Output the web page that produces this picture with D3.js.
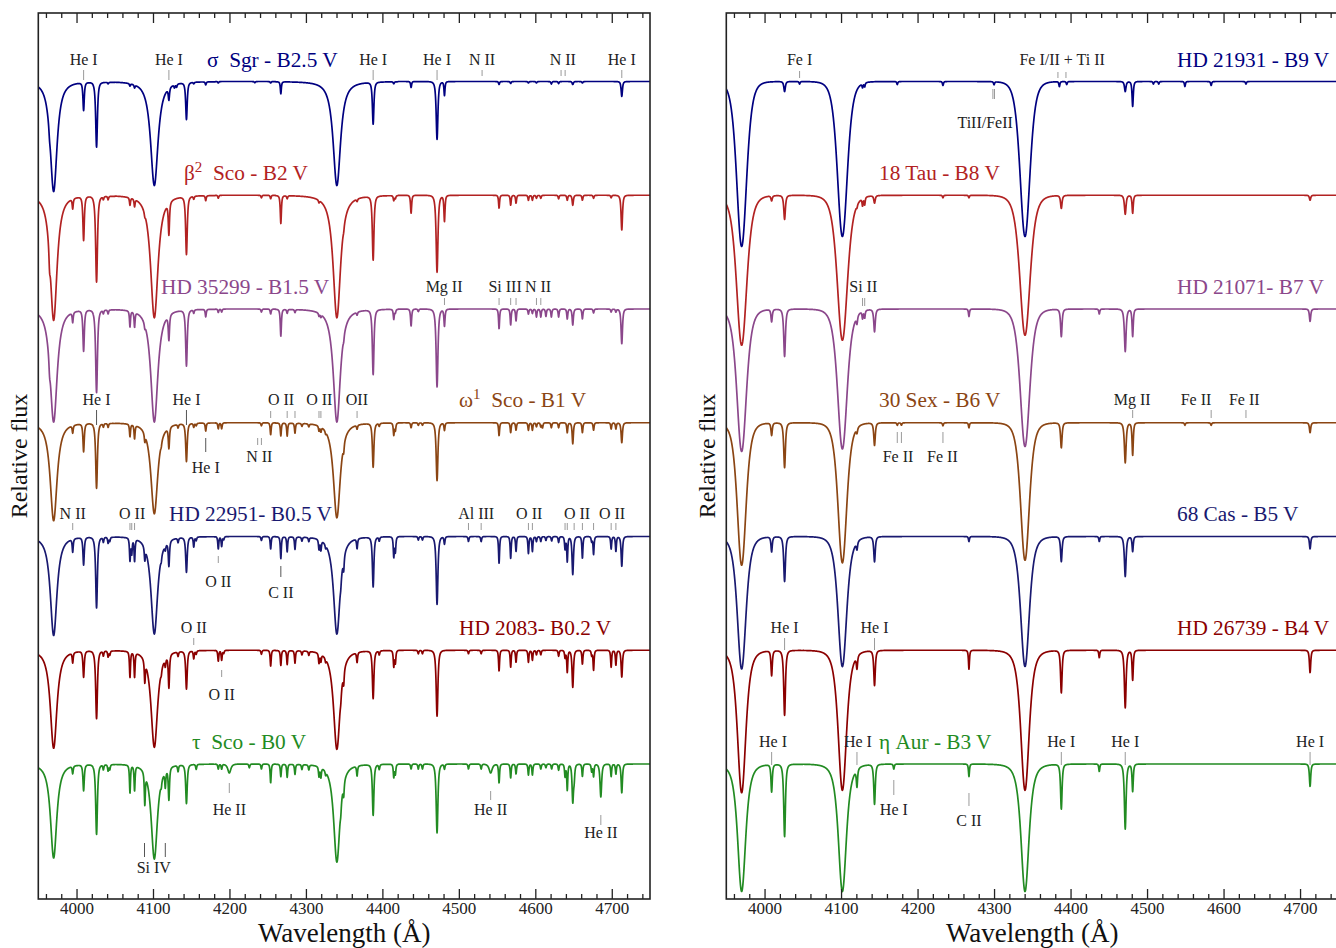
<!DOCTYPE html>
<html><head><meta charset="utf-8">
<script src="https://cdn.jsdelivr.net/npm/d3@7"></script>
<style>body{margin:0;background:#fff} svg{display:block} text{font-family:"Liberation Serif","DejaVu Serif",serif}</style>
</head><body><svg id="c" width="1336" height="948"></svg>
<script>
// ================= DATA =================
const wlDomain = [3950, 4750];
const majorTicks = [4000, 4100, 4200, 4300, 4400, 4500, 4600, 4700];
const minorTicks = d3.range(3960, 4750, 20).filter(v => v % 100 !== 0);
// continuum offsets (relative flux units) from top row to bottom row
const rowOffsets = [2.73, 2.275, 1.82, 1.365, 0.91, 0.455, 0];

// titles: [text before sup, sup, text after]
const leftTitles = [["σ  Sgr - B2.5 V"], ["β", "2", "  Sco - B2 V"], ["HD 35299 - B1.5 V"], ["ω", "1", "  Sco - B1 V"], ["HD 22951- B0.5 V"], ["HD 2083- B0.2 V"], ["τ  Sco - B0 V"]];
const rightTitles = [["HD 21931 - B9 V"], ["18 Tau - B8 V"], ["HD 21071- B7 V"], ["30 Sex - B6 V"], ["68 Cas - B5 V"], ["HD 26739 - B4 V"], ["η Aur - B3 V"]];
const leftColors = ["#000080", "#b22222", "#8b478b", "#8b4513", "#191970", "#8b0000", "#228b22"];
const rightColors = ["#000080", "#b22222", "#8b478b", "#8b4513", "#191970", "#8b0000", "#228b22"];

// absorption lines: [wavelength, depth, width, shape]  shape: 0 = gaussian, else exponent (default 1.5)
const linesSigmaSgr = [
  [3970.07,0.44,6,1.2],[4101.74,0.416,6.5,1.2],[4340.47,0.416,6.5,1.2],
  [3964.73,0.02,1.2],[4009.26,0.112,1.3],[4026.19,0.26,1.7],[4069.9,0.01,1],[4075.9,0.012,1],
  [4120.8,0.048,1.2],[4128.1,0.012,1],[4130.9,0.012,1],[4143.76,0.148,1.5],[4168.97,0.012,1],
  [4267.2,0.048,1],[4387.93,0.168,1.5],[4437.55,0.024,1],[4471.5,0.232,1.7],[4481.2,0.056,1],
  [4552.6,0.012,1],[4621.0,0.01,1],[4649.0,0.012,1.2],[4713.1,0.06,1.3],
  [4041.3,0.006,1],[4153.3,0.006,1],[4185.4,0.006,1],[4233.2,0.005,1],[4253.9,0.006,1],[4414.9,0.008,1],
  [4567.8,0.008,1],[4590.97,0.006,1],[4601.5,0.006,1],[4630.5,0.008,1],[4661.6,0.006,1]
];
const linesBeta2Sco = [
  [3970.07,0.5,6,1.2],[4101.74,0.49,6.5,1.2],[4340.47,0.49,6.5,1.2],
  [3964.73,0.06,1.2],[3995.0,0.04,1],[4009.26,0.176,1.4],[4026.19,0.344,1.8],[4069.9,0.03,1],[4075.9,0.03,1],
  [4120.8,0.128,1.2],[4143.76,0.232,1.6],[4168.97,0.02,1],[4267.2,0.112,1.1],[4387.93,0.256,1.6],
  [4414.9,0.02,1],[4437.55,0.072,1.1],[4471.5,0.308,1.8],[4481.2,0.104,1.1],[4552.6,0.052,1],
  [4567.8,0.04,1],[4574.8,0.032,1],[4591.0,0.02,1],[4596.2,0.02,1],[4641.8,0.02,1],[4649.0,0.04,1.2],
  [4661.6,0.02,1],[4713.1,0.14,1.4],
  [4035.1,0.012,1],[4041.3,0.014,1],[4089.3,0.012,1],[4153.3,0.012,1],[4185.4,0.012,1],[4241.8,0.01,1],
  [4253.9,0.014,1],[4275.5,0.012,1],[4317.1,0.01,1],[4349.4,0.012,1],[4366.9,0.01,1],[4416.97,0.012,1],
  [4601.5,0.012,1],[4607.2,0.012,1],[4630.5,0.014,1],[4676.2,0.012,1],[4699.2,0.01,1]
];
const linesHD35299 = [
  [3970.07,0.452,6.2,1.2],[4101.74,0.452,6.2,1.2],[4340.47,0.452,6.2,1.2],
  [3964.73,0.04,1.2],[3995.0,0.04,1],[4009.26,0.164,1.4],[4026.19,0.332,1.8],[4069.9,0.064,1],[4075.9,0.06,1],
  [4120.8,0.1,1.2],[4143.76,0.224,1.6],[4168.97,0.03,1],[4267.2,0.108,1.1],[4387.93,0.26,1.6],
  [4414.9,0.04,1],[4437.55,0.068,1.1],[4471.5,0.312,1.8],[4481.2,0.068,1.1],[4552.6,0.08,1],
  [4567.8,0.064,1],[4574.8,0.048,1],[4601.5,0.032,1],[4607.2,0.032,1],[4613.9,0.03,1],[4621.0,0.032,1],
  [4630.5,0.032,1],[4641.8,0.04,1],[4649.0,0.064,1.2],[4661.6,0.04,1],[4713.1,0.14,1.4],
  [4035.1,0.014,1],[4041.3,0.016,1],[4089.3,0.016,1],[4153.3,0.014,1],[4185.4,0.014,1],[4189.8,0.012,1],
  [4241.8,0.012,1],[4253.9,0.02,1],[4275.5,0.016,1],[4285.7,0.012,1],[4317.1,0.012,1],[4319.6,0.012,1],
  [4349.4,0.016,1],[4366.9,0.012,1],[4416.97,0.014,1],[4447.0,0.01,1],[4591.0,0.02,1],[4596.2,0.018,1],
  [4676.2,0.016,1],[4699.2,0.012,1],[4705.4,0.012,1]
];
const linesOmega1Sco = [
  [3970.07,0.392,6,1.2],[4101.74,0.364,6,1.2],[4340.47,0.38,6,1.2],
  [3995.0,0.03,1],[4009.26,0.112,1.3],[4026.19,0.26,1.7],[4069.9,0.05,1],[4075.9,0.055,1],[4089.3,0.03,1],
  [4120.8,0.084,1.2],[4143.76,0.152,1.5],[4168.97,0.032,1],[4185.4,0.024,1],[4189.8,0.024,1],
  [4253.9,0.048,1],[4267.2,0.052,1],[4275.5,0.052,1],[4285.7,0.04,1],[4317.1,0.02,1],[4319.6,0.02,1],
  [4349.4,0.03,1],[4366.9,0.016,1],[4387.93,0.176,1.5],[4414.9,0.048,1],[4416.97,0.03,1],[4437.55,0.02,1],
  [4471.5,0.232,1.7],[4481.2,0.03,1],[4552.6,0.052,1],[4567.8,0.04,1],[4574.8,0.03,1],[4591.0,0.03,1],
  [4596.2,0.03,1],[4609.4,0.02,1],[4621.0,0.02,1],[4630.5,0.02,1],[4641.8,0.04,1],[4649.0,0.084,1.2],
  [4661.6,0.04,1],[4676.2,0.03,1],[4699.2,0.025,1],[4705.4,0.025,1],[4713.1,0.08,1.3],
  [4035.1,0.014,1],[4041.3,0.016,1],[4110.8,0.012,1],[4132.8,0.014,1],[4153.3,0.016,1],[4156.5,0.01,1],
  [4241.8,0.012,1],[4294.8,0.012,1],[4303.8,0.012,1],[4325.8,0.01,1],[4395.9,0.012,1],[4447.0,0.01,1],
  [4452.4,0.01,1],[4601.5,0.016,1],[4607.2,0.016,1]
];
const linesHD22951 = [
  [3970.07,0.396,5.8,1.2],[4101.74,0.39,5.8,1.2],[4340.47,0.39,5.8,1.2],
  [3995.0,0.052,1],[4009.26,0.11,1.3],[4026.19,0.284,1.7],[4069.9,0.09,1],[4072.2,0.06,1],[4075.9,0.09,1],
  [4089.3,0.05,1],[4120.8,0.1,1.2],[4143.76,0.14,1.5],[4153.3,0.04,1],[4185.4,0.05,1],[4189.8,0.04,1],
  [4253.9,0.05,1],[4267.2,0.088,1],[4275.5,0.06,1],[4285.7,0.05,1],[4317.1,0.04,1],[4319.6,0.04,1],
  [4349.4,0.05,1],[4366.9,0.04,1],[4387.93,0.2,1.5],[4414.9,0.08,1],[4416.97,0.06,1],[4471.5,0.272,1.7],
  [4481.2,0.03,1],[4512.6,0.02,1],[4529.2,0.02,1],[4552.6,0.108,1],[4567.8,0.088,1],[4574.8,0.06,1],
  [4591.0,0.068,1],[4596.2,0.06,1],[4638.9,0.05,1],[4641.8,0.1,1],[4649.0,0.152,1.4],[4661.6,0.088,1],
  [4676.2,0.072,1],[4699.2,0.05,1],[4705.4,0.06,1],[4713.1,0.12,1.3],
  [4035.1,0.02,1],[4041.3,0.024,1],[4043.5,0.016,1],[4110.8,0.016,1],[4116.1,0.02,1],[4132.8,0.018,1],
  [4156.5,0.014,1],[4192.5,0.012,1],[4241.8,0.016,1],[4294.8,0.016,1],[4303.8,0.016,1],[4325.8,0.014,1],
  [4345.6,0.018,1],[4395.9,0.016,1],[4447.0,0.014,1],[4452.4,0.014,1],[4601.5,0.02,1],[4607.2,0.02,1],
  [4613.9,0.016,1],[4621.4,0.018,1],[4630.5,0.024,1],[4673.7,0.02,1]
];
const linesHD2083 = [
  [3970.07,0.392,5.8,1.2],[4101.74,0.388,5.8,1.2],[4340.47,0.396,5.8,1.2],
  [3995.0,0.04,1],[4009.26,0.104,1.3],[4026.19,0.272,1.7],[4069.9,0.104,1],[4075.9,0.1,1],[4089.3,0.084,1],
  [4116.1,0.03,1],[4120.8,0.132,1.2],[4143.76,0.152,1.5],[4153.3,0.032,1],[4185.4,0.044,1],[4189.8,0.04,1],
  [4253.9,0.064,1],[4267.2,0.06,1],[4275.5,0.056,1],[4285.7,0.05,1],[4317.1,0.04,1],[4319.6,0.03,1],
  [4349.4,0.05,1],[4366.9,0.04,1],[4387.93,0.192,1.5],[4414.9,0.064,1],[4416.97,0.05,1],[4471.5,0.264,1.7],
  [4552.6,0.084,1],[4567.8,0.068,1],[4574.8,0.048,1],[4591.0,0.048,1],[4596.2,0.04,1],[4641.8,0.088,1],
  [4649.0,0.148,1.4],[4661.6,0.056,1],[4676.2,0.08,1],[4699.2,0.068,1],[4705.4,0.06,1],[4713.1,0.108,1.3],
  [4035.1,0.02,1],[4041.3,0.024,1],[4043.5,0.016,1],[4110.8,0.016,1],[4132.8,0.018,1],[4156.5,0.014,1],
  [4192.5,0.012,1],[4241.8,0.016,1],[4294.8,0.016,1],[4303.8,0.016,1],[4325.8,0.014,1],[4345.6,0.018,1],
  [4395.9,0.016,1],[4447.0,0.014,1],[4452.4,0.014,1],[4512.6,0.014,1],[4529.2,0.014,1],[4601.5,0.018,1],
  [4607.2,0.018,1],[4630.5,0.024,1],[4638.9,0.03,1],[4673.7,0.02,1]
];
const linesTauSco = [
  [3970.07,0.376,5.5,1.2],[4101.74,0.38,5.5,1.2],[4340.47,0.392,5.5,1.2],
  [3995.0,0.03,1],[4009.26,0.104,1.3],[4026.19,0.28,1.7],[4069.9,0.112,1],[4075.9,0.1,1],[4089.3,0.124,1],
  [4116.1,0.064,1],[4120.8,0.128,1.2],[4143.76,0.156,1.5],[4199.8,0.036,3],[4253.9,0.076,1],[4267.2,0.05,1],
  [4275.5,0.052,1],[4285.7,0.04,1],[4317.1,0.04,1],[4319.6,0.04,1],[4349.4,0.05,1],[4366.9,0.04,1],
  [4387.93,0.204,1.5],[4414.9,0.052,1],[4471.5,0.276,1.7],[4541.6,0.036,3],[4552.6,0.076,1],[4567.8,0.056,1],
  [4574.8,0.04,1],[4591.0,0.044,1],[4596.2,0.044,1],[4641.8,0.104,1],[4649.0,0.148,1.4],[4661.6,0.05,1],
  [4685.7,0.132,1.6],[4713.1,0.116,1.3],
  [4035.1,0.02,1],[4041.3,0.025,1],[4043.5,0.02,1],[4110.8,0.02,1],[4132.8,0.025,1],[4156.5,0.02,1],
  [4185.4,0.02,1],[4189.8,0.02,1],[4226.0,0.015,1],[4241.8,0.02,1],[4294.8,0.02,1],[4303.8,0.02,1],
  [4325.8,0.015,1],[4345.6,0.025,1],[4395.9,0.02,1],[4416.97,0.04,1],[4437.55,0.02,1],[4447.0,0.02,1],
  [4452.4,0.02,1],[4481.2,0.02,1],[4512.6,0.02,1],[4529.2,0.02,1],[4607.2,0.02,1],[4613.9,0.015,1],
  [4621.4,0.02,1],[4630.5,0.025,1],[4638.9,0.05,1],[4650.8,0.05,1.2],[4673.7,0.03,1],[4676.2,0.05,1],
  [4699.2,0.05,1],[4705.4,0.04,1]
];
const linesHD21931 = [
  [3970.07,0.66,15,3],[4101.74,0.62,15,3],[4340.47,0.62,15,3],
  [4026.19,0.04,1.5],[4045.8,0.01,1],[4128.1,0.016,1],[4130.9,0.016,1],[4173.5,0.012,1],[4233.2,0.016,1],
  [4300.0,0.012,1],[4385.4,0.02,1],[4395.0,0.012,1],[4471.5,0.04,1.5],[4481.2,0.1,1.2],[4508.3,0.01,1],
  [4515.3,0.01,1],[4549.5,0.02,1],[4583.8,0.016,1],[4629.3,0.01,1]
];
const lines18Tau = [
  [3970.07,0.6,14,2.5],[4101.74,0.58,14,2.5],[4340.47,0.56,14,2.5],
  [4009.26,0.02,1.3],[4026.19,0.096,1.6],[4120.8,0.01,1],[4128.1,0.03,1],[4130.9,0.03,1],[4143.76,0.03,1.4],
  [4233.2,0.01,1],[4267.2,0.01,1],[4387.93,0.052,1.5],[4471.5,0.076,1.6],[4481.2,0.072,1.2],[4713.1,0.02,1.3]
];
const linesHD21071 = [
  [3970.07,0.57,13,2.5],[4101.74,0.56,13,2.5],[4340.47,0.55,13,2.5],
  [4009.26,0.05,1.3],[4026.19,0.19,1.7],[4120.8,0.03,1.2],[4128.1,0.03,1],[4130.9,0.03,1],[4143.76,0.09,1.5],
  [4267.2,0.03,1],[4387.93,0.11,1.5],[4437.55,0.02,1],[4471.5,0.17,1.7],[4481.2,0.11,1.2],[4713.1,0.05,1.3]
];
const lines30Sex = [
  [3970.07,0.57,12,2.5],[4101.74,0.56,12,2.5],[4340.47,0.55,12,2.5],
  [4009.26,0.05,1.3],[4026.19,0.18,1.7],[4120.8,0.02,1.2],[4143.76,0.09,1.5],[4173.5,0.01,1],[4178.9,0.01,1],
  [4233.2,0.012,1],[4267.2,0.02,1],[4387.93,0.1,1.5],[4471.5,0.16,1.7],[4481.2,0.13,1.2],[4549.5,0.01,1],
  [4583.8,0.01,1],[4713.1,0.04,1.3]
];
const lines68Cas = [
  [3970.07,0.53,11,2.2],[4101.74,0.52,11,2.2],[4340.47,0.52,11,2.2],
  [4009.26,0.06,1.3],[4026.19,0.18,1.7],[4120.8,0.03,1.2],[4143.76,0.1,1.5],[4267.2,0.02,1],
  [4387.93,0.1,1.5],[4437.55,0.02,1],[4471.5,0.16,1.7],[4481.2,0.06,1.2],[4713.1,0.05,1.3]
];
const linesHD26739 = [
  [3970.07,0.57,10,2],[4101.74,0.56,10,2],[4340.47,0.56,10,2],
  [4009.26,0.1,1.3],[4026.19,0.26,1.7],[4120.8,0.05,1.2],[4143.76,0.14,1.5],[4267.2,0.076,1],
  [4387.93,0.17,1.5],[4437.55,0.03,1],[4471.5,0.23,1.7],[4481.2,0.12,1.2],[4713.1,0.09,1.3]
];
const linesEtaAur = [
  [3970.07,0.51,9,1.8],[4101.74,0.51,9,1.8],[4340.47,0.51,9,1.8],
  [4009.26,0.11,1.3],[4026.19,0.29,1.7],[4120.8,0.07,1.2],[4143.76,0.16,1.5],[4168.97,0.02,1],[4267.2,0.05,1],
  [4387.93,0.18,1.5],[4437.55,0.03,1],[4471.5,0.26,1.7],[4481.2,0.11,1.2],[4713.1,0.09,1.3]
];
const leftLines = [linesSigmaSgr, linesBeta2Sco, linesHD35299, linesOmega1Sco, linesHD22951, linesHD2083, linesTauSco];
const rightLines = [linesHD21931, lines18Tau, linesHD21071, lines30Sex, lines68Cas, linesHD26739, linesEtaAur];

// line identifications: [panel, label, label wavelength, tick wavelengths]
const idLabels = [
  [0,"He I",4009.3,[4009.26]],[0,"He I",4120.8,[4120.8]],[0,"He I",4387.9,[4387.93]],[0,"He I",4471.5,[4471.5]],
  [0,"N II",4530.4,[4530.4]],[0,"N II",4636,[4633.7,4639]],[0,"He I",4713.1,[4713.1]],
  [0,"Mg II",4480.7,[4481.2]],[0,"Si III",4560.5,[4552.6,4567.8,4574.8]],[0,"N II",4603.6,[4601.5,4607.2]],
  [0,"He I",4026.2,[4026.19]],[0,"He I",4143.8,[4143.76]],[0,"He I",4169,[4168.97]],[0,"N II",4239,[4236.9,4241.8]],
  [0,"O II",4267.5,[4253.9,4275.5,4285.7]],[0,"O II",4317.5,[4317.1,4319.6]],[0,"OII",4366.7,[4366.9]],
  [0,"N II",3995,[3995.0]],[0,"O II",4072.7,[4069.9,4072.2,4075.9]],[0,"Al III",4522.6,[4512.6,4529.2]],
  [0,"O II",4592,[4591.0,4596.2]],[0,"O II",4654.6,[4638.9,4641.8,4650.8,4661.6,4676.2]],[0,"O II",4700.4,[4699.2,4705.4]],
  [0,"O II",4185.4,[4185.4]],[0,"C II",4267.2,[4267.2]],
  [0,"O II",4153.3,[4153.3]],[0,"O II",4189.8,[4189.8]],
  [0,"He II",4199.8,[4199.8]],[0,"Si IV",4101,[4088.9,4116.1]],[0,"He II",4541.6,[4541.6]],[0,"He II",4685.7,[4685.7]],
  [1,"Fe I",4045.8,[4045.8]],[1,"TiII/FeII",4288.4,[4298.5,4300.6]],[1,"Fe I/II + Ti II",4389,[4383.5,4394]],
  [1,"Si II",4129,[4128.1,4130.9]],
  [1,"Fe II",4174.5,[4173.5,4178.9]],[1,"Fe II",4232.5,[4233.2]],[1,"Mg II",4480.5,[4481.2]],[1,"Fe II",4564,[4583.8]],[1,"Fe II",4627,[4629.3]],
  [1,"He I",4026.2,[4026.19]],[1,"He I",4143.8,[4143.76]],
  [1,"He I",4011,[4009.26]],[1,"He I",4122,[4120.8]],[1,"He I",4169,[4168.97]],[1,"C II",4267.2,[4267.2]],
  [1,"He I",4387.9,[4387.93]],[1,"He I",4471.5,[4471.5]],[1,"He I",4713.1,[4713.1]]
];

// ================= LAYOUT =================
const W = 1336, H = 948;
const plotTop = 13, plotBottom = 899;
const panelX = [[38.3, 650], [726.3, 1338.3]];
// label layout per idLabels entry: [label baseline y, tick y1, tick y2, dark tick]
const idLayout = [
  [65,70,80,0],[65,70,80,0],[65,70,80,0],[65,70,80,0],[65,70,76,0],[65,70,76,0],[65,70,78,0],
  [292,298,305,0],[292,298,305,0],[292,298,305,0],
  [405,410,425,1],[405,410,425,1],[473,438,452,1],[462,438,445,0],
  [405,411,418,0],[405,411,418,0],[405,411,418,0],
  [519,523,530,0],[519,523,530,0],[519,523,530,0],[519,523,530,0],[519,523,530,0],[519,523,530,0],
  [587,556,563,0],[598,566,577,1],
  [633,638,645,0],[700,670,677,0],
  [815,783,793,0],[873,843,857,1],[815,791,800,0],[838,815,825,0],
  [65,71,78,0],[128,89,99,0],[65,72,78,0],
  [292,298,306,0],
  [462,432,443,0],[462,432,443,0],[405,410,418,0],[405,410,418,0],[405,410,418,0],
  [633,638,650,0],[633,638,650,0],
  [747,752,765,0],[747,752,765,0],[815,780,795,0],[826,793,806,0],
  [747,752,765,0],[747,752,765,0],[747,752,765,0]
];
const titlePos = {
  left: [[207,67],[184,180],[161,294],[459,407],[169,521],[459,635],[192,749]],
  right: [[1177,67],[879,180],[1177,294],[879,407],[1177,521],[1177,635],[879,749]]
};

const svg = d3.select("#c");
const y = d3.scaleLinear().domain([0.46, 4.004]).range([plotBottom, plotTop]);

function flux(lines, wl) {
  let f = 1;
  for (const ln of lines) {
    const d = wl - ln[0];
    if (Math.abs(d) > 80) continue;
    const r = d / ln[2];
    const a = ln.length > 3 ? ln[3] : 1.5;
    f -= a === 0 ? ln[1] * Math.exp(-0.5 * r * r) : ln[1] * Math.pow(1 + r * r, -a);
  }
  return f;
}
const grid = d3.range(wlDomain[0], wlDomain[1] + 0.001, 0.25);

const defs = svg.append("defs");
panelX.forEach((p, i) => {
  defs.append("clipPath").attr("id", "clip" + i).append("rect")
    .attr("x", p[0]).attr("y", plotTop).attr("width", p[1] - p[0]).attr("height", plotBottom - plotTop);
});

[leftLines, rightLines].forEach((set, pi) => {
  const x = d3.scaleLinear().domain(wlDomain).range(panelX[pi]);
  const g = svg.append("g");
  const colors = pi === 0 ? leftColors : rightColors;
  const titles = pi === 0 ? leftTitles : rightTitles;
  const tpos = pi === 0 ? titlePos.left : titlePos.right;

  // spectra
  const sg = g.append("g").attr("clip-path", `url(#clip${pi})`);
  set.forEach((lines, k) => {
    const pts = grid.map(w => [w, flux(lines, w) + rowOffsets[k]]);
    sg.append("path").attr("d", d3.line().x(d => x(d[0])).y(d => y(d[1]))(pts))
      .attr("fill", "none").attr("stroke", colors[k]).attr("stroke-width", 1.7).attr("stroke-linejoin", "round");
  });

  // titles
  titles.forEach((t, k) => {
    const tx = g.append("text").attr("x", tpos[k][0]).attr("y", tpos[k][1])
      .attr("fill", colors[k]).attr("font-size", 21.3).style("white-space", "pre");
    tx.append("tspan").text(t[0]);
    if (t.length > 1) {
      tx.append("tspan").attr("font-size", 15).attr("dy", -8).text(t[1]);
      tx.append("tspan").attr("dy", 8).text(t[2]);
    }
  });

  // line identifications
  idLabels.forEach((L, i) => {
    if (L[0] !== pi) return;
    const lay = idLayout[i];
    L[3].forEach(w => {
      g.append("line").attr("x1", x(w)).attr("x2", x(w)).attr("y1", lay[1]).attr("y2", lay[2])
        .attr("stroke", lay[3] ? "#555" : "#9a9a9a").attr("stroke-width", 1);
    });
    g.append("text").attr("x", x(L[2])).attr("y", lay[0]).attr("text-anchor", "middle")
      .attr("font-size", 16).attr("fill", "#222").text(L[1]);
  });

  // axes
  const ax = g.append("g");
  ax.append("g").attr("transform", `translate(0,${plotBottom})`)
    .call(d3.axisBottom(x).tickValues(minorTicks).tickSize(-5).tickFormat(""));
  ax.append("g").attr("transform", `translate(0,${plotBottom})`)
    .call(d3.axisBottom(x).tickValues(majorTicks).tickSize(-10).tickPadding(2.5).tickFormat(d3.format("d")))
    .selectAll("text").attr("font-size", 17).attr("fill", "#222").style("font-family", '"Liberation Serif",serif');
  ax.append("g").attr("transform", `translate(0,${plotTop})`)
    .call(d3.axisTop(x).tickValues(minorTicks).tickSize(-5).tickFormat(""));
  ax.append("g").attr("transform", `translate(0,${plotTop})`)
    .call(d3.axisTop(x).tickValues(majorTicks).tickSize(-10).tickFormat(""));
  ax.selectAll(".domain").remove();
  ax.selectAll(".tick line").attr("stroke", "#222").attr("stroke-width", 1.3);
  g.append("rect").attr("x", panelX[pi][0]).attr("y", plotTop)
    .attr("width", panelX[pi][1] - panelX[pi][0]).attr("height", plotBottom - plotTop)
    .attr("fill", "none").attr("stroke", "#222").attr("stroke-width", 1.6);

  // axis titles
  g.append("text").attr("x", (panelX[pi][0] + panelX[pi][1]) / 2).attr("y", 942)
    .attr("text-anchor", "middle").attr("font-size", 27).attr("fill", "#111").text("Wavelength (Å)");
  g.append("text").attr("transform", `translate(${panelX[pi][0] - 11},456) rotate(-90)`)
    .attr("text-anchor", "middle").attr("font-size", 24).attr("fill", "#111").text("Relative flux");
});
</script></body></html>
